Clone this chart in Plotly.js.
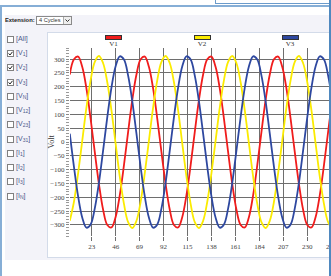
<!DOCTYPE html>
<html><head><meta charset="utf-8">
<script src="https://cdn.plot.ly/plotly-3.0.1.min.js"></script>
<style>
html,body{margin:0;padding:0;width:331px;height:276px;overflow:hidden;background:#fff;font-family:Arial,"Liberation Sans",sans-serif;}
#wrap{position:absolute;left:0;top:0;width:329px;height:276px;overflow:hidden;}
.abs{position:absolute;}
#topbox{left:215px;top:-2px;width:120px;height:4px;border:1px solid #6b9bcb;background:#fff;}
#ftop{left:0;top:5px;width:331px;height:2px;background:#86aed6;}
#fleft{left:0;top:5px;width:2px;height:271px;background:#86aed6;}
#fright{left:329px;top:0;width:2px;height:276px;background:#4f88bf;}
#panel{left:5px;top:15px;width:330px;height:245px;background:#f3f3f9;}
#extlbl{left:5px;top:16px;font-size:5.8px;font-weight:bold;color:#222;line-height:8px;white-space:nowrap;}
#sel{left:36px;top:16px;width:34px;height:7px;border:1px solid #8a8a8a;background:#fff;font-size:5.6px;line-height:7px;color:#333;}
#sel span{position:absolute;left:2px;top:0;white-space:nowrap;}
#arrow{position:absolute;right:0;top:0;width:7px;height:7px;border-left:1px solid #aaa;background:#eee;}
#chartbox{left:47px;top:32px;width:300px;height:224px;background:#fff;border:1px solid #d3dbe9;}
#plot{left:47px;top:32px;width:300px;height:225px;}
.cb{position:absolute;left:7px;width:5px;height:5px;border:1px solid #808080;background:#fff;}
.lb{position:absolute;left:16px;font-size:7px;line-height:8px;color:#4d5a8c;white-space:nowrap;}
.lb sub{font-size:5px;vertical-align:-1px;line-height:0;}
.leg{position:absolute;width:15px;height:3px;border:1px solid #333;}
.legt{position:absolute;font-family:"Liberation Serif","Times New Roman",serif;font-size:7px;color:#333;line-height:8px;width:20px;text-align:center;}
</style></head>
<body>
<div id="wrap">
<div class="abs" id="topbox"></div>
<div class="abs" id="panel"></div>
<div class="abs" id="extlbl">Extension:</div>
<div class="abs" id="sel"><span id="seltext"></span><div id="arrow"><svg width="7" height="7"><polyline points="1.5,2.5 3.5,4.5 5.5,2.5" fill="none" stroke="#333" stroke-width="1"/></svg></div></div>
<div class="abs" id="chartbox"></div>
<div class="abs" id="plot"></div>
<div id="legend"></div>
<div id="checks"></div>
<div class="abs" id="ftop"></div>
<div class="abs" id="fleft"></div>
</div>
<div class="abs" id="fright"></div>
<script>
// sample index
var sampleX = [2,6,10,14,18,22,26,30,34,38,42,46,50,54,58,62,66,70,74,78,82,86,90,94,98,102,106,110,114,118,122,126,130,134,138,142,146,150,154,158,162,166,170,174,178,182,186,190,194,198,202,206,210,214,218,222,226,230,234,238,242,246,250,254,258];
var v1 = [244,299,309,271,193,84,-37,-152,-245,-300,-309,-271,-192,-84,37,152,
          244,299,309,271,193,84,-37,-152,-245,-300,-309,-271,-192,-84,37,152,
          244,299,309,271,193,84,-37,-152,-245,-300,-309,-271,-192,-84,37,152,
          244,299,309,271,193,84,-37,-152,-245,-300,-309,-271,-192,-84,37,152,
          244];
var v2 = [-285,-216,-113,6,125,224,290,311,285,216,114,-6,-125,-224,-290,-311,
          -285,-216,-113,6,125,224,290,311,285,216,114,-6,-125,-224,-290,-311,
          -285,-216,-113,6,125,224,290,311,285,216,114,-6,-125,-224,-290,-311,
          -285,-216,-113,6,125,224,290,311,285,216,114,-6,-125,-224,-290,-311,
          -285];
var v3 = [30,-90,-197,-274,-310,-298,-240,-147,-30,90,197,274,310,298,240,147,
          30,-90,-197,-274,-310,-298,-240,-147,-30,90,197,274,310,298,240,147,
          30,-90,-197,-274,-310,-298,-240,-147,-30,90,197,274,310,298,240,147,
          30,-90,-197,-274,-310,-298,-240,-147,-30,90,197,274,310,298,240,147,
          30];
var seriesNames = ["V1","V2","V3"];
var seriesColors = ["#f01c1c","#fbeb00","#2e48a0"];
var xTickVals = [23,46,69,92,115,138,161,184,207,230,253];
var channelLabels = ["[All]","[V<sub>1</sub>]","[V<sub>2</sub>]","[V<sub>3</sub>]","[V<sub>N</sub>]","[V<sub>12</sub>]","[V<sub>23</sub>]","[V<sub>31</sub>]","[I<sub>1</sub>]","[I<sub>2</sub>]","[I<sub>3</sub>]","[I<sub>N</sub>]"];
var channelChecked = [false,true,true,true,false,false,false,false,false,false,false,false];
var extensionText = "4 Cycles";
document.getElementById('seltext').textContent = extensionText;

// left checkbox list
var ch = document.getElementById('checks');
channelLabels.forEach(function(t,i){
  var y = 39.3 + i*14.25;
  var b = document.createElement('div'); b.className='cb'; b.style.top=(y-3.5)+'px';
  if(channelChecked[i]) b.innerHTML='<svg width="5" height="5" style="position:absolute;left:0;top:0"><polyline points="0.6,2.4 2,4 4.5,0.8" fill="none" stroke="#222" stroke-width="1"/></svg>';
  ch.appendChild(b);
  var l = document.createElement('div'); l.className='lb'; l.style.top=(y-4.5)+'px'; l.innerHTML=t;
  ch.appendChild(l);
});

// legend
var lg = document.getElementById('legend');
var legCenters = [113.5,202,290];
seriesNames.forEach(function(n,i){
  var r=document.createElement('div'); r.className='leg'; r.style.left=(legCenters[i]-8.5)+'px'; r.style.top='34.5px'; r.style.background=seriesColors[i];
  lg.appendChild(r);
  var t=document.createElement('div'); t.className='legt'; t.style.left=(legCenters[i]-10)+'px'; t.style.top='40px'; t.textContent=n;
  lg.appendChild(t);
});

var ys=[v1,v2,v3];
var traces = seriesNames.map(function(n,i){
  return {x:sampleX, y:ys[i], name:n, type:'scatter', mode:'lines',
    line:{color:seriesColors[i], width:1.8, shape:'spline', smoothing:1}, hoverinfo:'skip'};
});
var serif = '"Liberation Serif","Times New Roman",serif';
var layout = {
  width:300, height:225,
  margin:{l:23, r:7, t:16, b:21, pad:0},
  paper_bgcolor:'rgba(0,0,0,0)', plot_bgcolor:'rgba(0,0,0,0)',
  showlegend:false,
  xaxis:{range:[2.2,261.4], tickmode:'array', tickvals:xTickVals, ticktext:xTickVals.map(String),
    showgrid:true, gridcolor:'#6e6e6e', gridwidth:1, zeroline:false, showline:false,
    ticks:'outside', ticklen:4, tickcolor:'#6e6e6e', tickwidth:1,
    tickfont:{family:serif, size:7, color:'#444'}, fixedrange:true},
  yaxis:{range:[-340,340], tickmode:'linear', tick0:0, dtick:50,
    showgrid:true, gridcolor:'#6e6e6e', gridwidth:1, zeroline:false, showline:false,
    ticks:'outside', ticklen:3, tickcolor:'#888', tickwidth:1,
    minor:{dtick:10, tick0:0, ticks:'outside', ticklen:3, tickcolor:'#999', showgrid:false},
    tickfont:{family:serif, size:7, color:'#444'}, fixedrange:true},
  annotations:[{text:'Volt', xref:'paper', yref:'paper', x:-0.072, y:0.5, xanchor:'center', yanchor:'middle',
    textangle:-90, showarrow:false, font:{family:serif, size:8, color:'#333'}}]
};
Plotly.newPlot('plot', traces, layout, {staticPlot:true, displayModeBar:false});
</script>
</body></html>
